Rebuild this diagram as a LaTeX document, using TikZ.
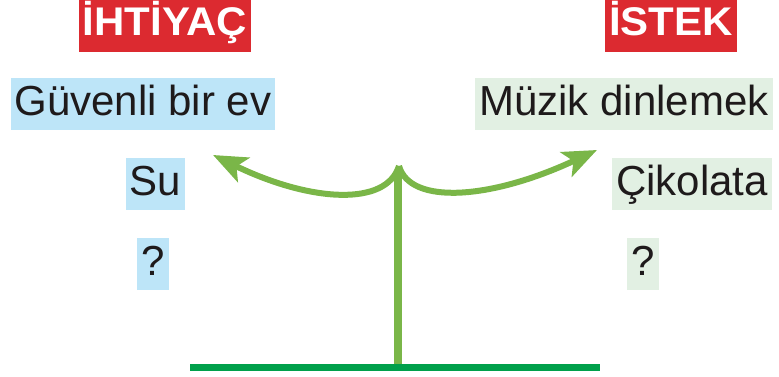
\documentclass[tikz,border=0pt]{standalone}
\usepackage{fontspec}
\setmainfont{Liberation Sans}
\newfontfamily\headfont[FakeStretch=1.05]{Liberation Sans}
\usetikzlibrary{arrows.meta}
\definecolor{titlered}{RGB}{220,42,48}
\definecolor{needblue}{RGB}{189,229,248}
\definecolor{wishgreen}{RGB}{226,240,227}
\definecolor{armgreen}{RGB}{122,182,72}
\definecolor{basegreen}{RGB}{0,160,75}
\definecolor{textdark}{RGB}{30,26,27}
\tikzstyle{title} = [fill=titlered, text=white, font=\headfont\bfseries\fontsize{40}{42}\selectfont, text height=33pt, text depth=14pt, inner ysep=3pt, inner xsep=4pt, anchor=base]
\tikzstyle{need} = [fill=needblue, text=textdark, font=\fontsize{42}{50}\selectfont, text height=32pt, text depth=10pt, inner ysep=5pt, inner xsep=4pt, anchor=base]
\tikzstyle{wish} = [need, fill=wishgreen]
\tikzstyle{arrow} = [line width=6pt, draw=armgreen, -{Stealth[length=34pt,width=27pt,inset=8pt]}]

\begin{document}
\begin{tikzpicture}[x=1pt, y=-1pt]
        \useasboundingbox (0,0) rectangle (779,376);
        \node (ihtiyac) [title] at (165,35) {İHTİYAÇ};
        \node (istek) [title] at (671,35) {İSTEK};

        \node (ev) [need] at (143,115) {Güvenli bir ev};
        \node (su) [need] at (155.5,195) {Su};
        \node (needq) [need] at (153,275) {?};

        \node (muzik) [wish] at (624,115) {Müzik dinlemek};
        \node (cikolata) [wish] at (692,195) {Çikolata};
        \node (wishq) [wish] at (643,275) {?};

        \coordinate (top) at (399,166);
        \coordinate (stemtop) at (398,173);
        \coordinate (foot) at (398,364);
        \coordinate (baseleft) at (190,367);
        \coordinate (baseright) at (600,367);
        \coordinate (lefttip) at (213,155);
        \coordinate (righttip) at (597,150);

        \draw [line width=7pt, basegreen] (baseleft) -- (baseright);
        \draw [line width=8pt, armgreen] (stemtop) -- (foot);
        \draw [arrow] (top) .. controls (386,207) and (310,202) .. (lefttip);
        \draw [arrow] (top) .. controls (410,205) and (490,200) .. (righttip);
    \end{tikzpicture}
\end{document}
